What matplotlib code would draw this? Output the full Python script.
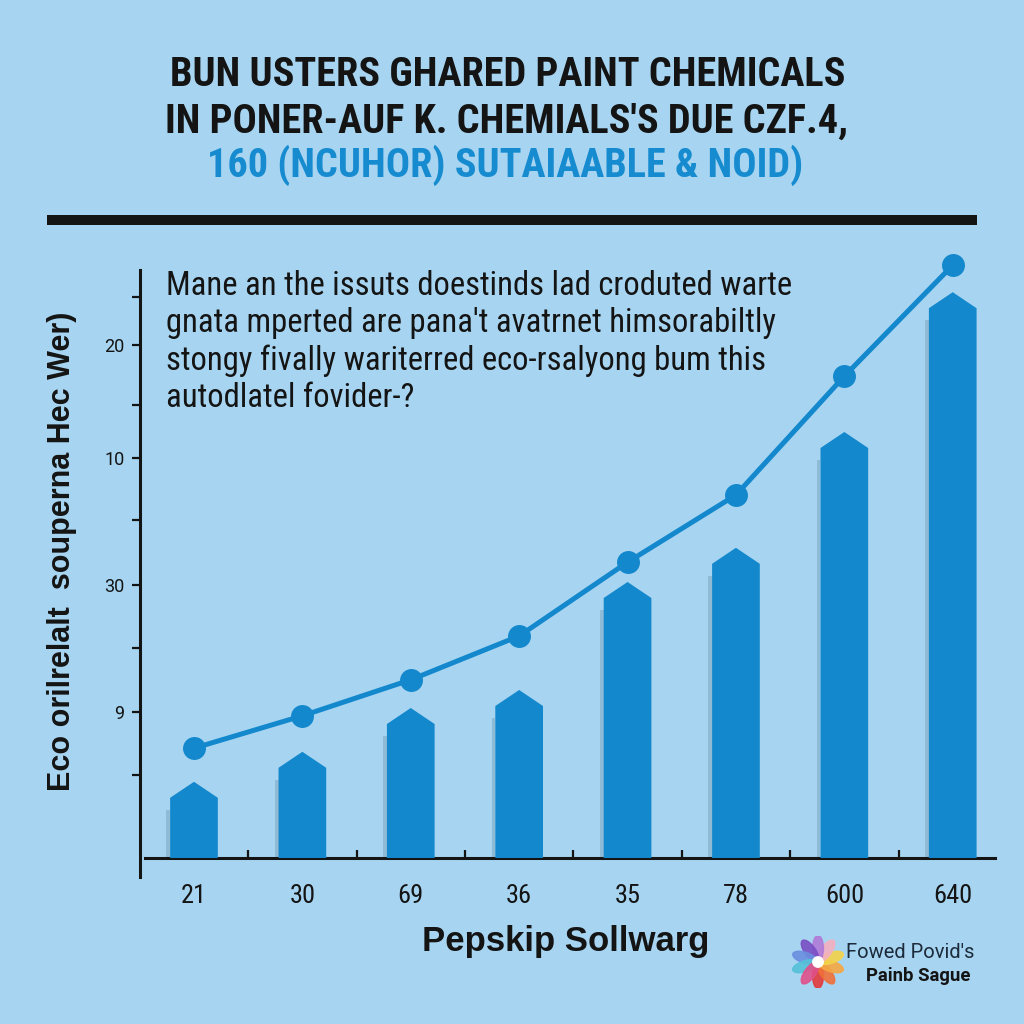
import math

import matplotlib

matplotlib.use("Agg")
import matplotlib.pyplot as plt
from matplotlib import font_manager
from matplotlib.lines import Line2D
from matplotlib.patches import Ellipse, Circle, Polygon

# data
categories = ["21", "30", "69", "36", "35", "78", "600", "640"]
bar_values = [12.7, 17.7, 25.0, 28.0, 46.0, 51.7, 71.0, 94.3]
line_values = [18.3, 23.7, 29.7, 37.0, 49.3, 60.5, 80.3, 98.8]
ytick_pos = [93.5, 85.5, 75.5, 66.7, 56.3, 45.5, 35.0, 24.3, 13.8]
ytick_labels = ["", "20", "", "10", "", "30", "", "9", ""]

title_lines = [
    "BUN USTERS GHARED PAINT CHEMICALS",
    "IN PONER-AUF K. CHEMIALS'S DUE CZF.4,",
    "160 (NCUHOR) SUTAIAABLE & NOID)",
]
note = (
    "Mane an the issuts doestinds lad croduted warte\n"
    "gnata mperted are pana't avatrnet himsorabiltly\n"
    "stongy fivally wariterred eco-rsalyong bum this\n"
    "autodlatel fovider-?"
)
xlabel = "Pepskip Sollwarg"
ylabel = "Eco orilrelalt  souperna Hec Wer)"
logo_top = "Fowed Povid's"
logo_bottom = "Painb Sague"
petal_colors = ["#e23b3b", "#f0703a", "#f5a742", "#f3d34a", "#f4b0c0",
                "#b07ad8", "#7a4fc4", "#6b8fe0", "#56c0d8", "#e0508a"]

BG = "#a7d5f1"
BAR = "#1488cd"
INK = "#141414"
TBLUE = "#168bcf"


def pick(*names):
    for n in names:
        try:
            font_manager.findfont(font_manager.FontProperties(family=n),
                                  fallback_to_default=False)
            return n
        except ValueError:
            pass
    return "DejaVu Sans"


NARROW = pick("Roboto Condensed", "Liberation Sans Narrow", "Roboto")
BODY = pick("Roboto", "DejaVu Sans")
HEAVY = pick("Liberation Sans", "Roboto")

W = 1024.0
fig = plt.figure(figsize=(10.24, 10.24), dpi=100, facecolor=BG)


def fx(px):
    return px / W


def fy(py):
    return 1 - py / W


# title block
fig.text(fx(508), fy(75), title_lines[0], ha="center", va="center",
         fontsize=29, fontweight="bold", family=NARROW, color=INK)
fig.text(fx(507), fy(122), title_lines[1], ha="center", va="center",
         fontsize=29, fontweight="bold", family=NARROW, color=INK)
fig.text(fx(505), fy(165), title_lines[2], ha="center", va="center",
         fontsize=29, fontweight="bold", family=NARROW, color=TBLUE)
fig.add_artist(Line2D([fx(47), fx(977)], [fy(220), fy(220)],
                      color=INK, linewidth=7.2, solid_capstyle="butt"))

# main axes
ax = fig.add_axes([fx(140), fy(877), fx(995 - 140), fx(877 - 270)])
ax.set_facecolor(BG)
ax.set_xlim(-0.498, 7.39)
ax.set_ylim(-3.17, 98.0)

w = 0.44
s = 2.67
for i, v in enumerate(bar_values):
    left, right = i - w / 2, i + w / 2
    shadow = Polygon([(left - 0.035, 0), (left - 0.035, v - s - 2.0),
                      (left, v - s - 2.0), (left, 0)],
                     closed=True, color="#5b7f9c", alpha=0.3, lw=0, zorder=2)
    ax.add_patch(shadow)
    ax.add_patch(Polygon([(left, 0), (left, v - s), (i, v), (right, v - s),
                          (right, 0)], closed=True, color=BAR, lw=0, zorder=3))

x = list(range(len(categories)))
ax.plot(x, line_values, color=BAR, linewidth=3.6, marker="o", markersize=15.5,
        zorder=4, clip_on=False)

for side in ("top", "right"):
    ax.spines[side].set_visible(False)
ax.spines["left"].set_linewidth(2.2)
ax.spines["left"].set_color(INK)
ax.spines["bottom"].set_position(("data", 0))
ax.spines["bottom"].set_bounds(-0.452, 7.39)
ax.spines["bottom"].set_linewidth(2.2)
ax.spines["bottom"].set_color(INK)

ax.set_yticks(ytick_pos)
ax.set_yticklabels(ytick_labels)
ax.tick_params(axis="y", direction="out", length=6, width=1.6, color=INK,
               labelsize=13, pad=5, labelcolor=INK)
ax.set_xticks(x)
ax.set_xticklabels(categories, family=NARROW)
ax.tick_params(axis="x", which="major", length=0, pad=19, labelsize=19,
               labelcolor=INK)
ax.set_xticks([i + 0.5 for i in range(len(categories) - 1)], minor=True)
ax.tick_params(axis="x", which="minor", direction="in", length=6, width=1.6,
               color=INK)
for t in ax.get_yticklabels():
    t.set_family(BODY)

fig.text(fx(566), fy(941), xlabel, ha="center", va="center", fontsize=25,
         fontweight="bold", family=HEAVY, color=INK)
fig.text(fx(62), fy(551), ylabel, ha="center", va="center", rotation=90,
         fontsize=22, fontweight="bold", family=HEAVY, color=INK)

fig.text(fx(166), fy(270), note, ha="left", va="top", fontsize=23.5,
         family=NARROW, color=INK, linespacing=1.2)

# logo
lax = fig.add_axes([fx(792), fy(988), fx(52), fx(52)])
lax.set_xlim(-1, 1)
lax.set_ylim(-1, 1)
lax.set_aspect("equal")
lax.axis("off")
n = len(petal_colors)
for k, c in enumerate(petal_colors):
    ang = 360.0 * k / n - 90
    cx = 0.52 * math.cos(math.radians(ang))
    cy = 0.52 * math.sin(math.radians(ang))
    lax.add_patch(Ellipse((cx, cy), 1.0, 0.42, angle=ang, color=c, alpha=0.9))
lax.add_patch(Circle((0, 0), 0.2, color="white"))
fig.text(fx(846), fy(953), logo_top, ha="left", va="center", fontsize=14.5,
         family=BODY, color="#1c2a3a")
fig.text(fx(866), fy(976), logo_bottom, ha="left", va="center", fontsize=13.3,
         fontweight="bold", family=BODY, color=INK)

fig.savefig("out.png", dpi=100, facecolor=BG)
